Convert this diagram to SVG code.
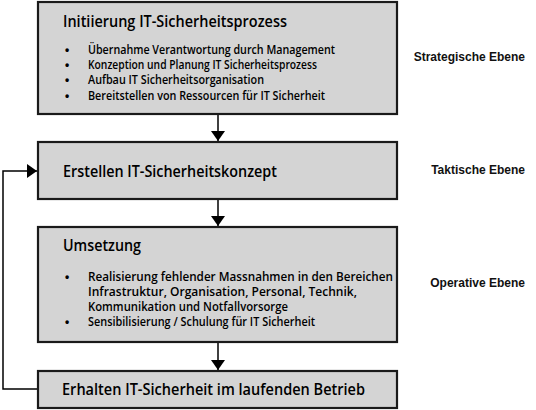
<svg xmlns="http://www.w3.org/2000/svg" width="536" height="410" viewBox="0 0 536 410">
<defs>
<marker id="ah" viewBox="0 0 10 14" refX="10" refY="7" markerWidth="10" markerHeight="14" markerUnits="userSpaceOnUse" orient="auto">
<path d="M0,0 L10,7 L0,14 Z" fill="#000"/>
</marker>
</defs>
<style>
.box{fill:#d4d4d4;stroke:#1a1a1a;stroke-width:2.2}
.title{font-family:"Open Sans","Noto Sans",sans-serif;font-weight:600;font-size:16.5px;fill:#000}
.item{font-family:"Open Sans","Noto Sans",sans-serif;font-weight:600;font-size:11.8px;fill:#000}
.bul{font-family:"Liberation Sans",Arial,sans-serif;font-weight:bold;font-size:12px;fill:#000}
.lvl{font-family:"Liberation Sans",Arial,sans-serif;font-weight:bold;font-size:12px;fill:#111;text-anchor:end}
.con{fill:none;stroke:#000;stroke-width:1.5}
</style>
<rect width="536" height="410" fill="#fff"/>
<g id="connectors">
<line class="con" x1="218" y1="115" x2="218" y2="141" marker-end="url(#ah)"/>
<line class="con" x1="218" y1="200" x2="218" y2="226" marker-end="url(#ah)"/>
<line class="con" x1="218" y1="343" x2="218" y2="370" marker-end="url(#ah)"/>
<polyline class="con" points="37,389 3,389 3,171 37,171" marker-end="url(#ah)"/>
</g>
<g id="node1">
<rect class="box" x="38" y="2" width="359" height="112"/>
<text class="title" x="63" y="27" textLength="224" lengthAdjust="spacingAndGlyphs">Initiierung IT-Sicherheitsprozess</text>
<g class="bul">
<text x="65" y="54">•</text><text x="65" y="69">•</text><text x="65" y="84">•</text><text x="65" y="100">•</text>
</g>
<g class="item">
<text x="88" y="54" textLength="247" lengthAdjust="spacingAndGlyphs">Übernahme Verantwortung durch Management</text>
<text x="88" y="69" textLength="229" lengthAdjust="spacingAndGlyphs">Konzeption und Planung IT Sicherheitsprozess</text>
<text x="88" y="84" textLength="176" lengthAdjust="spacingAndGlyphs">Aufbau IT Sicherheitsorganisation</text>
<text x="88" y="100" textLength="237" lengthAdjust="spacingAndGlyphs">Bereitstellen von Ressourcen für IT Sicherheit</text>
</g>
</g>
<g id="node2">
<rect class="box" x="38" y="142" width="359" height="57"/>
<text class="title" x="63" y="177" textLength="214" lengthAdjust="spacingAndGlyphs">Erstellen IT-Sicherheitskonzept</text>
</g>
<g id="node3">
<rect class="box" x="38" y="227" width="359" height="115"/>
<text class="title" x="63" y="251" textLength="78" lengthAdjust="spacingAndGlyphs">Umsetzung</text>
<g class="bul">
<text x="65" y="281">•</text><text x="65" y="326">•</text>
</g>
<g class="item">
<text x="88" y="281" textLength="305" lengthAdjust="spacingAndGlyphs">Realisierung fehlender Massnahmen in den Bereichen</text>
<text x="88" y="296" textLength="269" lengthAdjust="spacingAndGlyphs">Infrastruktur, Organisation, Personal, Technik,</text>
<text x="88" y="311" textLength="200" lengthAdjust="spacingAndGlyphs">Kommunikation und Notfallvorsorge</text>
<text x="88" y="326" textLength="227" lengthAdjust="spacingAndGlyphs">Sensibilisierung / Schulung für IT Sicherheit</text>
</g>
</g>
<g id="node4">
<rect class="box" x="38" y="371" width="359" height="37"/>
<text class="title" x="62" y="395" textLength="303" lengthAdjust="spacingAndGlyphs">Erhalten IT-Sicherheit im laufenden Betrieb</text>
</g>
<g id="levels">
<text class="lvl" x="525" y="61">Strategische Ebene</text>
<text class="lvl" x="525" y="174">Taktische Ebene</text>
<text class="lvl" x="525" y="287">Operative Ebene</text>
</g>
</svg>
